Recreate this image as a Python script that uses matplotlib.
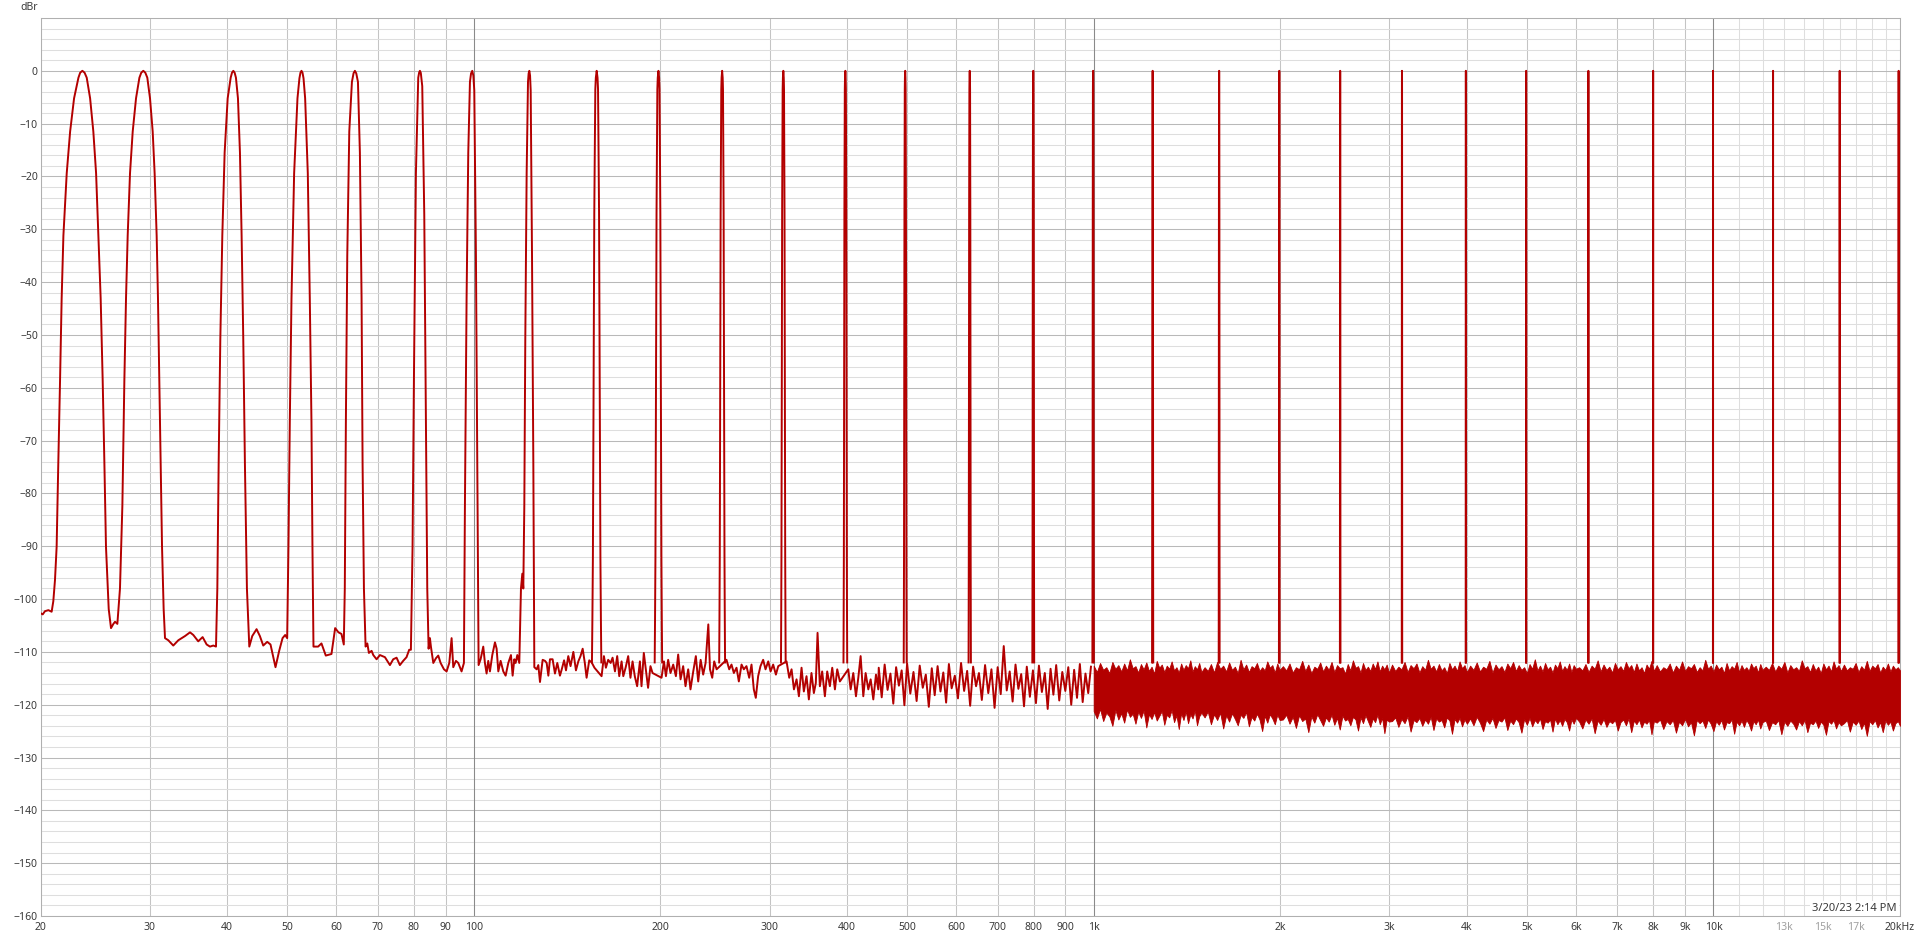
import matplotlib
matplotlib.use('Agg')
import matplotlib.pyplot as plt
import numpy as np

RED = '#b30000'
TXT = '#3a3a3a'

# trace from 20 Hz to ~138 Hz, read point by point (the wide low tones)
low_f = [20.0, 20.15, 20.32, 20.58, 20.83, 20.96, 21.09, 21.22, 21.35, 21.49, 21.62, 21.76, 22.03,
         22.31, 22.64, 23.01, 23.16, 23.35, 23.54, 23.73, 24.03, 24.32, 24.57, 24.78, 24.99, 25.18,
         25.34, 25.49, 25.75, 25.97,
         26.2, 26.36, 26.59, 26.85, 27.09, 27.29, 27.46, 27.63, 27.87, 28.15, 28.5, 28.86, 29.06,
         29.28, 29.5, 29.72, 30.02, 30.32, 30.54, 30.77, 30.92, 31.08, 31.23, 31.39, 31.58, 31.74,
         32.13, 32.73, 33.35, 34.19, 34.83, 35.26, 35.91, 36.5, 37.05, 37.51, 37.98, 38.36, 38.55,
         38.74, 38.98, 39.27, 39.61, 40.06, 40.51, 40.71, 40.91, 41.11, 41.31, 41.62, 41.93, 42.19,
         42.45, 42.71, 43.03, 43.41,
         43.89, 44.6, 45.15, 45.72, 46.4, 46.97, 47.85, 48.51, 49.12, 49.6, 49.97, 50.21, 50.46,
         50.78, 51.28, 51.92, 52.3, 52.5, 52.7, 52.9, 53.1, 53.42, 53.95, 54.35, 54.69, 54.89, 55.1,
         56.06, 56.76, 57.68, 58.91, 59.72, 60.46, 61.14, 61.67, 61.9, 62.15, 62.47, 62.94, 63.56,
         63.95, 64.27, 64.6, 65.0, 65.47, 65.88, 66.13, 66.46, 66.87,
         67.3, 67.7, 68.38, 68.81, 69.66, 70.53, 71.85, 72.47, 73.2, 74.1, 75.03, 75.96, 76.9,
         77.86, 78.63, 79.13, 79.62, 80.02, 80.62, 81.32, 81.6, 81.83, 82.1, 82.54, 83.16, 83.68,
         84.09, 84.51,
         84.93, 85.24, 86.0, 86.85, 87.6, 88.37, 89.47, 90.36, 91.26, 92.05, 92.62, 93.54, 94.36,
         95.52, 96.36, 96.72, 97.32, 97.93, 98.54, 98.95, 99.39, 99.8, 100.14, 100.76, 101.26,
         101.76,
         102.52, 103.54, 104.18, 104.83, 105.48, 106.14, 107.07, 108.14, 108.81, 109.49, 110.44,
         111.54, 112.51, 113.63, 114.76, 115.48, 116.2, 116.77, 117.5, 118.37, 119.11, 119.71,
         120.15, 120.6, 121.04, 121.65, 122.26, 122.55, 122.87, 123.2, 123.49, 124.1, 124.71,
         125.17, 126.26, 127.04, 127.83, 129.1, 130.23, 131.04, 131.86, 132.66, 133.97, 135.14,
         136.32, 137.67]
low_db = [-102.7, -102.9, -102.3, -102.1, -102.4, -100.4, -96.4, -90.1, -74.4, -58.7, -43.0, -31.2,
          -19.4, -11.5, -5.2, -1.3, -0.35, 0.0, -0.35, -1.3, -5.2, -11.5, -19.4, -31.2, -43.0,
          -58.7, -74.4, -90.1, -101.9, -105.5,
          -104.7, -104.3, -104.7, -98.0, -82.3, -58.7, -43.0, -31.2, -19.4, -11.5, -5.2, -1.3,
          -0.35, 0.0, -0.35, -1.3, -5.2, -11.5, -19.4, -31.2, -43.0, -58.7, -74.4, -90.1, -101.9,
          -107.4,
          -107.8, -108.8, -107.8, -107.0, -106.3, -106.8, -108.0, -107.2, -108.6, -109.0, -108.8,
          -109.0, -98.0, -74.4, -50.8, -31.2, -15.5, -5.2, -1.3, -0.35, 0.0, -0.35, -1.3, -5.2,
          -15.5, -31.2, -50.8, -74.4, -98.0, -109.0,
          -107.0, -105.7, -107.0, -108.8, -108.1, -108.6, -112.9, -109.8, -107.4, -106.8, -107.4,
          -90.1, -66.5, -43.0, -19.4, -5.2, -1.4, -0.35, 0.0, -0.35, -1.4, -5.2, -19.4, -43.0,
          -66.5, -90.1, -109.0,
          -109.0, -108.4, -110.7, -110.4, -105.5, -106.3, -106.6, -108.6, -98.0, -66.5, -35.1,
          -11.5, -2.1, -0.45, 0.0, -0.5, -2.1, -15.5, -43.0, -74.4, -98.0, -109.0,
          -108.4, -110.2, -109.8, -110.6, -111.4, -110.6, -111.0, -111.7, -112.5, -111.4, -111.1,
          -112.5, -111.7, -111.0, -109.6, -109.6, -90.1, -58.7, -19.4, -1.3, -0.3, 0.0, -0.4, -2.9,
          -27.2, -66.5, -98.0, -109.4,
          -107.4, -109.0, -112.1, -111.2, -110.7, -112.1, -113.3, -113.7, -112.1, -107.4, -112.9,
          -111.7, -112.1, -113.7, -112.1, -82.3, -43.0, -15.5, -2.1, -0.5, 0.0, -0.9, -3.7, -35.1,
          -74.4, -112.5,
          -111.4, -109.0, -112.1, -114.1, -111.7, -113.7, -110.6, -108.2, -109.4, -113.7, -111.7,
          -113.7, -114.5, -112.1, -110.6, -114.5, -111.4, -112.1, -110.6, -112.1, -98.0, -95.2,
          -98.0, -82.3, -50.8, -19.4, -2.1, -0.5, 0.0, -0.9, -3.7, -35.1, -74.4, -112.9, -113.3,
          -112.5, -115.7, -111.5, -111.7, -112.1, -114.5, -111.4, -111.4, -114.1, -112.1, -114.5]

# noise floor between the tones, 138 Hz - 1 kHz
floor_f = [138.6, 139.8, 140.8, 142.0, 143.2, 144.7, 146.1, 147.4, 148.6, 149.8, 151.0, 152.0,
           153.5, 154.9, 156.5, 160.7, 162.1, 163.3, 164.7, 166.2, 167.4, 168.9, 170.3, 171.6,
           173.1, 174.2, 175.7, 177.4, 178.9, 180.3, 181.8, 183.4, 185.3, 186.4, 188.0, 189.4,
           191.0, 192.7, 194.2, 200.8, 202.6, 204.1, 205.8, 207.6, 209.7, 211.8, 213.6, 215.5,
           217.6, 219.5, 221.7, 223.6, 225.9, 228.1, 230.1, 232.2, 234.4, 236.5, 238.9, 240.4,
           242.4, 244.2, 246.4, 255.6, 258.2, 260.4, 262.7, 265.3, 267.6, 270.3, 272.6, 275.3,
           278.1, 280.5, 282.9, 285.0, 287.5, 290.0, 292.9, 295.5, 298.5, 301.1, 304.0, 307.1,
           309.8, 319.5, 322.7, 325.5, 328.4, 331.6, 334.5, 337.8, 340.7, 344.1, 347.1, 350.5,
           353.6, 356.2, 358.5, 361.6, 364.7, 368.4, 371.6, 375.3, 378.6, 382.4, 385.7, 389.5,
           401.8, 405.4, 409.4, 413.5, 417.1, 420.7, 424.9, 428.6, 432.9, 436.7, 441.0, 445.4,
           449.2,
           450, 455, 460, 465, 470, 475, 480, 485, 490, 495,
           500, 506, 512, 518, 524, 530, 536, 542, 548, 554,
           560, 566, 572, 578, 584, 590, 597, 604, 611, 618,
           625, 632, 639, 646, 653, 660, 668, 676, 684, 692,
           700, 708, 716, 724, 732, 740, 748, 756, 764, 772,
           780, 789, 798, 807, 816, 825, 834, 843, 852, 861,
           870, 880, 890, 900, 910, 920, 930, 940, 950, 960,
           970, 980, 990]
floor_db = [-113.3, -111.6, -113.5, -110.8, -112.7, -110.0, -113.5, -111.8, -110.8, -109.4, -112.1,
            -114.9, -111.6, -112.0, -113.0, -114.6, -110.8, -113.0, -111.5, -112.1, -111.1, -113.7,
            -110.8, -114.6, -111.8, -114.6, -113.0, -110.8, -114.9, -111.8, -114.6, -116.5, -111.8,
            -116.5, -110.2, -113.3, -116.8, -112.7, -114.0, -114.9, -111.8, -114.6, -111.5, -114.0,
            -112.4, -114.6, -110.5, -115.2, -112.7, -116.5, -113.3, -117.1, -113.7, -110.8, -115.6,
            -111.5, -114.3, -112.1, -104.8, -113.3, -114.9, -111.8, -113.3, -111.5, -113.3, -112.4,
            -114.0, -113.0, -115.6, -112.4, -113.3, -112.7, -114.9, -112.4, -117.1, -118.7, -114.6,
            -112.7, -111.5, -113.3, -111.8, -113.7, -112.4, -114.3, -112.7, -111.8, -114.9, -113.3,
            -117.1, -115.2, -118.4, -113.0, -117.5, -114.6, -119.0, -114.0, -117.8, -115.9, -106.4,
            -116.5, -113.7, -118.4, -113.7, -116.5, -113.0, -117.1, -113.3, -115.6, -113.3, -117.1,
            -114.0, -118.4, -114.9, -110.8, -118.4, -114.0, -117.1, -115.2, -119.0, -114.3, -117.1,
            -113.0, -118.6, -112.4, -117.2, -114.1, -119.8, -112.9, -116.4, -113.5, -120.1,
            -112.2, -117.9, -113.8, -119.3, -112.6, -116.8, -114.3, -120.4, -113.1, -118.2,
            -112.7, -117.5, -113.9, -119.6, -112.3, -116.9, -114.5, -118.8, -112.1, -117.4,
            -113.6, -120.2, -112.8, -116.5, -114.0, -119.1, -112.5, -117.8, -113.3, -120.6,
            -112.9, -118.0, -108.9, -117.3, -113.7, -119.4, -112.4, -117.0, -114.2, -120.3,
            -112.8, -118.5, -113.5, -119.7, -112.6, -117.6, -114.0, -120.8, -113.2, -118.1,
            -112.5, -119.2, -113.8, -117.4, -112.9, -120.0, -113.4, -118.7, -112.3, -119.5,
            -114.1, -117.8, -112.8]

# dense noise band 1 kHz - 20 kHz: upper and lower edge
band_f = [1000, 1012, 1024, 1036, 1048, 1060, 1072, 1084, 1096, 1108, 1120, 1132, 1144, 1156,
          1168, 1180, 1192, 1204, 1216, 1228, 1240, 1252, 1264, 1276, 1288, 1300, 1312, 1324,
          1336, 1348, 1360, 1372, 1384, 1396, 1408, 1420, 1432, 1444, 1456, 1468, 1480, 1492,
          1510, 1528, 1546, 1564, 1582, 1600, 1618, 1636, 1654, 1672, 1690, 1708, 1726, 1744,
          1762, 1780, 1798, 1816, 1834, 1852, 1870, 1888, 1906, 1924, 1942, 1960, 1978, 1996,
          2020, 2045, 2070, 2095, 2120, 2145, 2170, 2195, 2220, 2245, 2270, 2295, 2320, 2345,
          2370, 2395, 2420, 2445, 2470, 2495, 2520, 2545, 2570, 2595, 2620, 2645, 2670, 2695,
          2720, 2745, 2770, 2795, 2820, 2845, 2870, 2895, 2920, 2945, 2970, 2995,
          3030, 3066, 3102, 3138, 3174, 3210, 3246, 3282, 3318, 3354, 3390, 3426, 3462, 3498,
          3534, 3570, 3606, 3642, 3678, 3714, 3750, 3786, 3822, 3858, 3894, 3930, 3966, 4002,
          4050, 4100, 4150, 4200, 4250, 4300, 4350, 4400, 4450, 4500, 4550, 4600, 4650, 4700,
          4750, 4800, 4850, 4900, 4950, 5000, 5050, 5100, 5150, 5200, 5250, 5300, 5350, 5400,
          5450, 5500, 5550, 5600, 5650, 5700, 5750, 5800, 5850, 5900, 5950, 6000,
          6072, 6144, 6216, 6288, 6360, 6432, 6504, 6576, 6648, 6720, 6792, 6864, 6936, 7008,
          7080, 7152, 7224, 7296, 7368, 7440, 7512, 7584, 7656, 7728, 7800, 7872, 7944, 8016,
          8100, 8200, 8300, 8400, 8500, 8600, 8700, 8800, 8900, 9000, 9100, 9200, 9300, 9400,
          9500, 9600, 9700, 9800, 9900, 10000, 10100, 10200, 10300, 10400, 10500, 10600, 10700,
          10800, 10900, 11000, 11100, 11200, 11300, 11400, 11500, 11600, 11700, 11800, 11900, 12000,
          12145, 12290, 12435, 12580, 12725, 12870, 13015, 13160, 13305, 13450, 13595, 13740,
          13885, 14030, 14175, 14320, 14465, 14610, 14755, 14900, 15045, 15190, 15335, 15480,
          15625, 15770, 15915, 16060,
          16240, 16420, 16600, 16780, 16960, 17140, 17320, 17500, 17680, 17860, 18040, 18220,
          18400, 18580, 18760, 18940, 19120, 19300, 19480, 19660, 19840, 20000]
band_hi = [-112.6, -113.8, -112.1, -113.4, -112.9, -114.0, -111.9, -113.2, -112.5, -113.7,
           -112.2, -113.5, -111.4, -113.1, -112.7, -113.9, -112.3, -113.3, -112.0, -113.6,
           -112.8, -114.1, -111.7, -113.0, -112.4, -113.8, -112.6, -113.2, -111.8, -113.5,
           -112.9, -113.9, -112.2, -113.4, -112.5, -113.1, -111.6, -113.7, -112.7, -113.3,
           -112.1, -113.8,
           -112.9, -113.6, -112.3, -113.9, -111.9, -113.2, -112.6, -113.7, -112.0, -113.4,
           -112.8, -114.0, -111.5, -113.3, -112.4, -113.8, -112.7, -113.1, -112.1, -113.6,
           -112.9, -113.5, -111.8, -113.0, -112.5, -113.9, -112.2, -113.4,
           -112.7, -113.5, -112.2, -113.9, -112.9, -113.3, -111.7, -113.6, -112.4, -114.0,
           -112.8, -113.2, -112.0, -113.7, -112.6, -113.4, -111.9, -113.8, -112.5, -113.1,
           -112.9, -114.1, -112.3, -113.5, -111.6, -113.0, -112.7, -113.9, -112.1, -113.4,
           -112.8, -113.6, -112.2, -113.2, -111.8, -113.7, -112.6, -113.3, -112.4, -113.9,
           -112.4, -113.6, -112.8, -113.3, -111.9, -113.8, -112.5, -113.1, -112.2, -113.9,
           -112.7, -113.4, -111.5, -113.2, -112.6, -113.7, -112.3, -113.5, -112.9, -114.0,
           -112.1, -113.3, -112.6, -113.6, -111.8, -113.1, -112.5, -113.8,
           -112.6, -113.4, -112.0, -113.7, -112.8, -113.2, -111.7, -113.9, -112.4, -113.3,
           -112.7, -113.8, -112.2, -113.1, -111.9, -113.6, -112.5, -113.4, -112.9, -114.0,
           -112.3, -113.2, -111.4, -113.5, -112.6, -113.7, -112.1, -113.3, -112.8, -113.9,
           -112.4, -113.1, -111.8, -113.6, -112.7, -113.4, -112.2, -113.8, -112.5, -113.2,
           -112.9, -113.5, -112.3, -113.8, -112.6, -113.2, -111.6, -113.7, -112.4, -113.4,
           -112.8, -113.9, -112.1, -113.3, -112.7, -113.6, -111.9, -113.1, -112.5, -113.8,
           -112.2, -113.5, -112.9, -114.0, -112.4, -113.2, -111.7, -113.6,
           -112.5, -113.7, -112.9, -113.3, -112.2, -113.9, -112.6, -113.4, -111.8, -113.6,
           -112.7, -113.1, -112.3, -113.8, -112.9, -113.5, -111.5, -113.2, -112.6, -113.7,
           -112.4, -113.3, -112.8, -114.0, -112.1, -113.5, -112.7, -113.2, -111.9, -113.8,
           -112.5, -113.4, -112.9, -113.6, -112.2, -113.1, -112.6, -113.9, -112.3, -113.4,
           -112.8, -113.4, -112.1, -113.7, -112.6, -113.2, -111.9, -113.9, -112.5, -113.3,
           -112.9, -113.6, -111.6, -113.1, -112.7, -113.8, -112.3, -113.5, -112.8, -114.0,
           -112.2, -113.3, -112.6, -113.7, -111.8, -113.2, -112.5, -113.6,
           -112.4, -113.5, -112.9, -113.2, -112.1, -113.8, -112.7, -113.4, -111.7, -113.6,
           -112.6, -113.1, -112.3, -113.9, -112.8, -113.4, -112.2, -113.7, -112.6, -113.3,
           -112.9, -113.5]
band_lo = [-121.2, -122.6, -120.8, -123.1, -121.5, -122.2, -124.0, -121.0, -122.8, -121.6,
           -123.4, -120.9, -122.3, -121.7, -123.6, -121.3, -122.5, -121.1, -124.3, -121.8,
           -122.7, -121.4, -123.0, -122.1, -121.2, -123.8, -121.9, -122.4, -121.0, -123.3,
           -122.0, -124.6, -121.6, -122.9, -121.3, -123.5, -121.8, -122.6, -121.1, -123.9,
           -122.2, -121.5,
           -122.4, -121.3, -123.7, -121.8, -122.9, -121.5, -124.5, -122.0, -123.2, -121.6,
           -122.7, -123.9, -121.9, -122.5, -121.4, -124.1, -122.3, -123.0, -121.7, -122.8,
           -125.0, -122.1, -123.4, -121.8, -122.6, -123.7, -121.9, -122.9,
           -122.8, -121.9, -123.6, -122.3, -124.4, -122.0, -123.1, -122.6, -125.2, -122.2,
           -123.4, -121.8, -122.9, -124.0, -122.4, -123.2, -121.9, -123.8, -122.5, -124.7,
           -122.1, -123.0, -122.7, -123.9, -122.3, -122.8, -124.9, -122.4, -123.5, -122.0,
           -123.1, -124.2, -122.6, -123.3, -121.9, -123.7, -122.5, -125.4, -122.8, -123.2,
           -123.1, -122.4, -124.2, -122.7, -123.5, -122.2, -125.1, -122.9, -123.3, -122.5,
           -124.0, -122.8, -123.6, -122.3, -124.8, -122.6, -123.2, -122.9, -124.3, -122.4,
           -123.0, -125.5, -122.7, -123.4, -122.5, -124.1, -122.8, -123.6,
           -122.6, -123.9, -122.3, -123.4, -125.0, -122.8, -123.6, -122.5, -124.4, -122.9,
           -123.2, -122.4, -124.8, -123.0, -123.7, -122.6, -123.3, -125.3, -122.7, -123.8,
           -122.5, -124.1, -122.9, -123.5, -122.6, -124.6, -123.1, -123.4, -122.8, -125.1,
           -122.6, -123.7, -122.9, -124.0, -122.7, -123.3, -124.9, -122.8, -123.6, -122.5,
           -123.2, -124.5, -122.8, -123.6, -122.6, -125.4, -123.0, -123.8, -122.7, -124.2,
           -123.1, -123.5, -122.9, -124.9, -123.3, -122.8, -123.9, -122.6, -125.2, -123.0,
           -123.7, -122.8, -124.3, -123.2, -123.6, -122.9, -125.6, -123.1,
           -123.4, -122.8, -124.6, -123.1, -123.7, -122.9, -125.3, -123.2, -123.9, -122.7,
           -124.1, -123.3, -125.8, -122.9, -123.5, -123.0, -124.4, -122.8, -123.6, -125.0,
           -123.1, -123.8, -122.9, -124.7, -123.3, -123.5, -122.8, -125.5, -123.2, -123.9,
           -123.0, -124.2, -122.9, -123.6, -124.9, -123.1, -123.7, -122.8, -124.5, -123.3,
           -123.0, -124.8, -123.3, -123.7, -122.9, -125.6, -123.2, -124.0, -123.0, -123.6,
           -124.7, -123.1, -123.9, -122.9, -125.2, -123.4, -123.7, -123.0, -124.4, -123.2,
           -123.8, -125.7, -123.1, -123.6, -122.9, -124.5, -123.3, -123.9,
           -123.5, -122.9, -125.1, -123.2, -123.8, -123.0, -124.6, -123.4, -125.9, -123.1,
           -123.7, -122.9, -124.3, -123.3, -125.2, -123.0, -123.8, -123.2, -124.9, -123.5,
           -123.1, -124.0]

# narrow test tones above 150 Hz
tone_f = [157.8, 198.5, 251.5, 315.7, 397.5, 496.5, 631, 799, 998, 1245, 1594, 1993, 2499, 3144,
          3986, 4987, 6284, 7993, 9984, 12480, 15985, 19900]
tone_db = [0, 0, 0, 0, 0, 0, 0, 0, 0, 0, 0, 0, 0, 0, 0, 0, 0, 0, 0, 0, 0, 0]

lobe_df = [0, 0.5, 0.8, 1.2, 1.4, 1.8, 2.2, 2.5, 2.75]
lobe_db = [0, -1.3, -3.5, -19, -27, -60, -92, -104, -112]

x_ticks = [20, 30, 40, 50, 60, 70, 80, 90, 100, 200, 300, 400, 500, 600, 700, 800, 900,
           1000, 2000, 3000, 4000, 5000, 6000, 7000, 8000, 9000, 10000, 20000]
x_labels = ['20', '30', '40', '50', '60', '70', '80', '90', '100', '200', '300', '400', '500',
            '600', '700', '800', '900', '1k', '2k', '3k', '4k', '5k', '6k', '7k', '8k', '9k',
            '10k', '20kHz']
x_minor = [11000, 12000, 13000, 14000, 15000, 16000, 17000, 18000, 19000]
x_minor_labels = ['', '', '13k', '', '15k', '', '17k', '', '']
decades = [100, 1000, 10000]

assert len(band_f) == len(band_hi) == len(band_lo)
assert len(floor_f) == len(floor_db) and len(low_f) == len(low_db)

plt.rcParams['font.family'] = ['Noto Sans', 'DejaVu Sans']

fig = plt.figure(figsize=(19.2, 9.41), dpi=100)
ax = fig.add_axes([40.7 / 1920, 25 / 941, (1900 - 40.7) / 1920, 898 / 941])
ax.set_xscale('log')

LW = 1.4
ax.plot(low_f + floor_f, low_db + floor_db, color=RED, lw=LW, zorder=3)
ax.fill_between(band_f, band_lo, band_hi, color=RED, lw=0.6, zorder=3)

df = np.array(lobe_df)
dbs = np.array(lobe_db)
shape_df = np.concatenate([-df[::-1], df[1:]])
shape_db = np.concatenate([dbs[::-1], dbs[1:]])
for f, lvl in zip(tone_f, tone_db):
    ax.plot(f + shape_df, lvl + shape_db, color=RED, lw=LW, zorder=3)

ax.set_xlim(20, 20000)
ax.set_ylim(-160, 10)

ax.set_xticks(x_ticks)
ax.set_xticklabels(x_labels)
ax.set_xticks(x_minor, minor=True)
ax.set_xticklabels(x_minor_labels, minor=True)
ax.set_yticks(np.arange(-160, 1, 10))
ax.set_yticks(np.arange(-160, 11, 2), minor=True)

ax.tick_params(axis='both', which='both', length=0, labelsize=7.5, labelcolor=TXT)
ax.tick_params(axis='x', which='both', pad=4.5)
ax.tick_params(axis='y', which='both', pad=2)
for lab in ax.get_xticklabels(minor=True):
    lab.set_color('#a0a0a0')

ax.set_axisbelow(True)
ax.grid(True, axis='y', which='minor', color='#dedede', lw=0.75)
ax.grid(True, axis='y', which='major', color='#b9b9b9', lw=0.75)
ax.grid(True, axis='x', which='major', color='#c4c4c4', lw=0.75)
ax.grid(True, axis='x', which='minor', color='#dedede', lw=0.75)
for d in decades:
    ax.axvline(d, color='#8a8a8a', lw=0.75, zorder=1)

for s in ax.spines.values():
    s.set_color('#b0b0b0')
    s.set_linewidth(0.75)

fig.text(29 / 1920, 1 - 8 / 941, 'dBr', ha='center', va='center', fontsize=7.5, color=TXT)
fig.text(1897 / 1920, 1 - 911 / 941, '3/20/23 2:14 PM', ha='right', va='baseline', fontsize=8,
         color=TXT, bbox=dict(facecolor='white', edgecolor='none', pad=1.5), zorder=5)

fig.savefig('out.png', dpi=100)
